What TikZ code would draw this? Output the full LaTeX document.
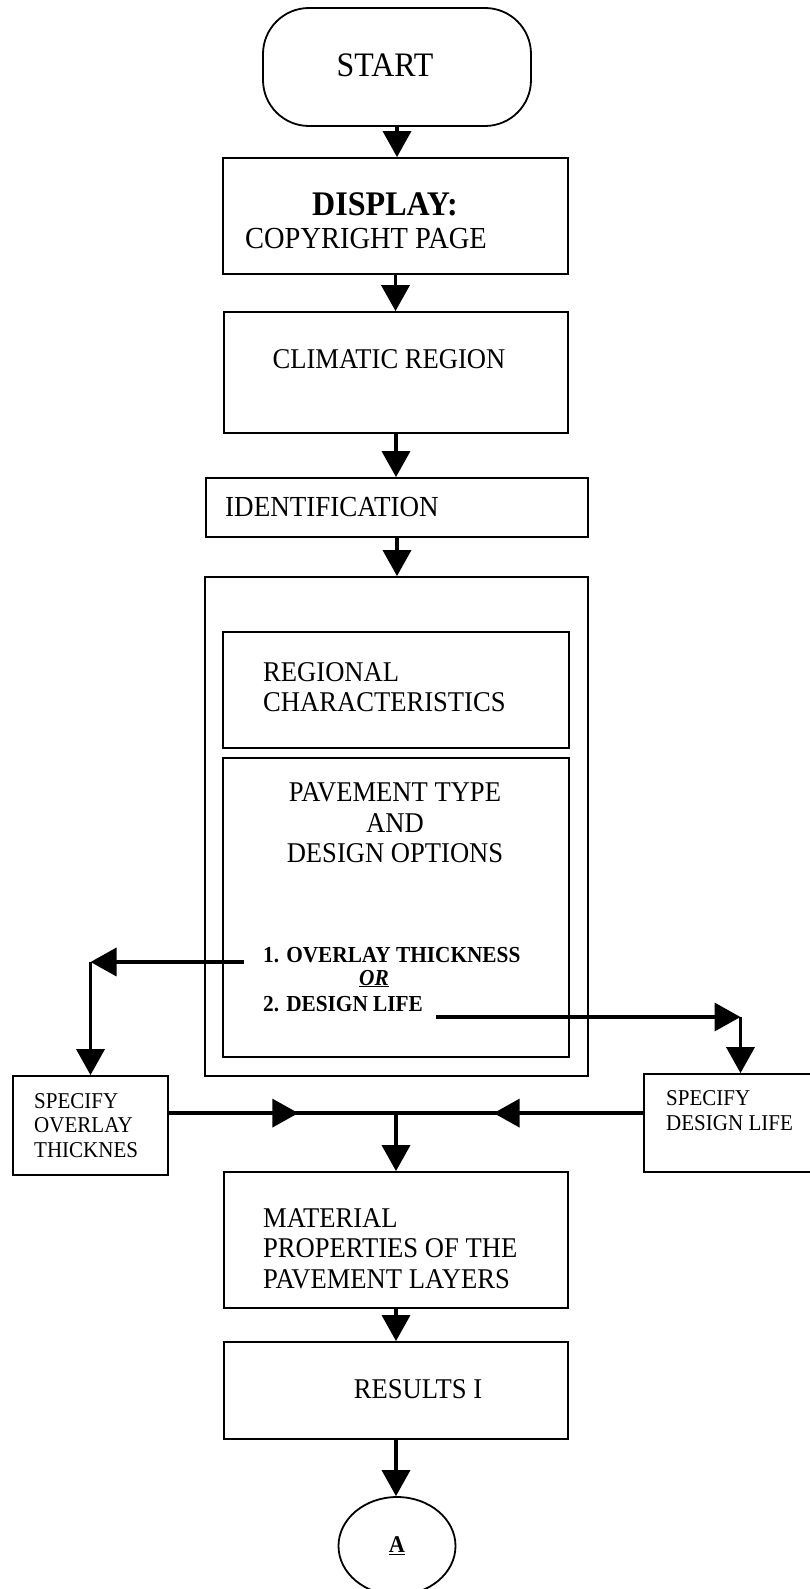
\documentclass[tikz,border=0pt]{standalone}
\usepackage{fontspec}
\setmainfont{Liberation Serif}[FakeStretch=0.93]
\usetikzlibrary{
  arrows.meta,
  positioning,
  calc,
  shapes.geometric,
  decorations.markings
}
\tikzset{
  flowbox/.style={
    draw,
    line width=1.8pt,
    inner sep=0pt,
    minimum width=344pt
  },
  termbox/.style={flowbox, rounded corners=46pt},
  conbox/.style={draw, ellipse, line width=1.8pt, inner sep=0pt},
  bigtext/.style={inner sep=0pt, align=left, font=\fontsize{28.6}{30.5}\selectfont},
  boldtext/.style={inner sep=0pt, align=left, font=\bfseries\fontsize{22.9}{24.5}\selectfont},
  sidetext/.style={inner sep=0pt, align=left, font=\fontsize{22.6}{24.5}\selectfont},
  flowarrow/.style={-{Triangle[length=26pt,width=28pt]}, line width=3.6pt},
  flowline/.style={line width=3.6pt},
  midarrow/.style={
    postaction={decorate},
    decoration={markings, mark=at position #1 with {\arrow{Triangle[length=26pt,width=28pt]}}}
  }
}

\begin{document}
\begin{tikzpicture}[x=1pt, y=-1pt]
  \useasboundingbox (0,0) rectangle (809,1589);

  % main column
  \node[termbox, minimum width=268pt, minimum height=118pt] (start) at (397,67) {};
  \node[bigtext, font=\fontsize{34.3}{36}\selectfont] (starttxt) at (385,65) {START};
  \node[flowbox, minimum width=345pt, minimum height=116pt] (disp) at (395.5,216) {};
  \node[bigtext, font=\bfseries\fontsize{34.5}{36}\selectfont] (disptitle) at (385,204) {DISPLAY:};
  \node[bigtext, font=\fontsize{30.6}{30.5}\selectfont] (disptxt) at (366,239) {COPYRIGHT PAGE};
  \node[flowbox, minimum height=121pt] (clim) at (396,372.5) {};
  \node[bigtext] (climtxt) at (389,359) {CLIMATIC REGION};
  \node[flowbox, minimum width=382pt, minimum height=59pt] (ident) at (397,507.5) {};
  \node[bigtext, anchor=west, font=\fontsize{29.1}{30}\selectfont] (identtxt) at (225,507) {IDENTIFICATION};

  % grouped block
  \node[flowbox, minimum width=383pt, minimum height=499pt] (outer) at (396.5,826.5) {};
  \node[flowbox, minimum width=346pt, minimum height=116pt] (region) at (396,690) {};
  \node[bigtext, anchor=west] (regiontxt) at (263,687) {REGIONAL\\CHARACTERISTICS};
  \node[flowbox, minimum width=346pt, minimum height=299pt] (pave) at (396,907.5) {};
  \node[bigtext, align=center] (pavetxt) at (395,823) {PAVEMENT TYPE\\AND\\DESIGN OPTIONS};
  \node[boldtext, anchor=base west] (opt1) at (263,962) {1. OVERLAY THICKNESS};
  \node[boldtext, anchor=base west] (optor) at (359,985) {\underline{\textit{OR}}};
  \node[boldtext, anchor=base west] (opt2) at (263,1011) {2. DESIGN LIFE};

  % side boxes
  \node[flowbox, minimum width=155pt, minimum height=99pt] (ovl) at (90.5,1125.5) {};
  \node[sidetext, anchor=west] (ovltxt) at (34,1125.5) {SPECIFY\\OVERLAY\\THICKNES};
  \node[flowbox, minimum width=193pt, minimum height=98pt] (dlife) at (740.5,1123) {};
  \node[sidetext, anchor=west] (dlifetxt) at (666,1110.5) {SPECIFY\\DESIGN LIFE};

  % lower column
  \node[flowbox, minimum height=136pt] (mat) at (396,1240) {};
  \node[bigtext, anchor=west] (mattxt) at (263,1248.5) {MATERIAL\\PROPERTIES OF THE\\PAVEMENT LAYERS};
  \node[flowbox, minimum height=97pt] (res) at (396,1390.5) {};
  \node[bigtext] (restxt) at (418,1389) {RESULTS I};
  \node[conbox, minimum width=117pt, minimum height=98pt, font=\bfseries\fontsize{24}{24}\selectfont] (conA) at (397,1546) {\underline{A}};

  % connectors
  \draw[flowarrow] (start.south) -- (start.south |- disp.north);
  \draw[flowarrow] (disp.south) -- (disp.south |- clim.north);
  \draw[flowarrow] (clim.south) -- (clim.south |- ident.north);
  \draw[flowarrow] (ident.south) -- (ident.south |- outer.north);

  \coordinate (ovlsrc) at ([xshift=-19pt]opt1.base west);
  \coordinate (ovlbend) at (ovl.north |- ovlsrc);
  \draw[flowarrow] (ovlsrc) -- (ovlbend);
  \draw[flowarrow] (ovlbend) -- (ovl.north);

  \coordinate (dlsrc) at ([xshift=13pt,yshift=-6pt]opt2.base east);
  \coordinate (dlbend) at (dlife.north |- dlsrc);
  \draw[flowarrow] (dlsrc) -- (dlbend);
  \draw[flowarrow] (dlbend) -- (dlife.north);

  \coordinate (merge) at ($(mat.north)+(0,-58)$);
  \draw[flowline, midarrow=0.57] (ovl.east |- merge) -- (merge);
  \draw[flowline, midarrow=0.605] (dlife.west |- merge) -- (merge);
  \draw[flowarrow] (merge) -- (mat.north);
  \draw[flowarrow] (mat.south) -- (mat.south |- res.north);
  \draw[flowarrow] (res.south) -- (res.south |- conA.north);
\end{tikzpicture}
\end{document}
